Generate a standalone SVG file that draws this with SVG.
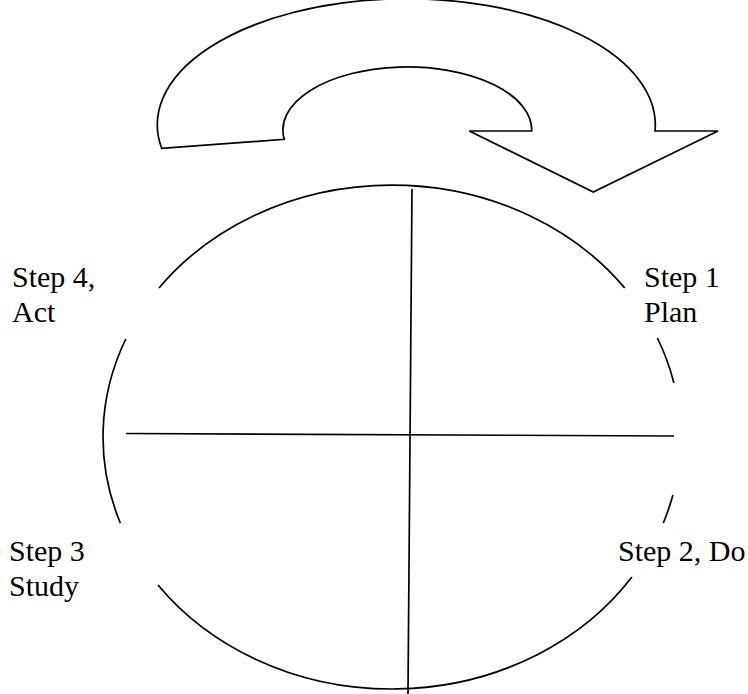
<svg xmlns="http://www.w3.org/2000/svg" width="748" height="694" viewBox="0 0 748 694">
<style>
.ln{fill:none;stroke:#000;stroke-width:1.7}
.lbl{font-family:"Liberation Serif","Times New Roman",serif;font-size:30px;fill:#000}
</style>
<rect width="748" height="694" fill="#fff"/>
<g id="cycle-arrow">
<path class="ln" fill="#fff" d="M161.7 148.3 A249 126 0 1 1 655 131 L718 131 L593.3 192 L469.3 131 L531.7 131 A124.4 63 0 1 0 284.3 139.3 Z"/>
</g>
<g id="circle">
<path class="ln" d="M159 288 A288.8 252 0 0 1 624.7 288"/>
<path class="ln" d="M657.4 338 A288.8 252 0 0 1 673.9 383"/>
<path class="ln" d="M672.9 495 A288.8 252 0 0 1 663.3 523"/>
<path class="ln" d="M631.9 577 A288.8 252 0 0 1 158 585"/>
<path class="ln" d="M120.3 523 A288.8 252 0 0 1 125.8 339"/>
</g>
<g id="connectors">
<line class="ln" x1="412" y1="189" x2="408" y2="694"/>
<line class="ln" x1="126" y1="433.5" x2="674" y2="436"/>
</g>
<g id="step1"><text class="lbl" x="644" y="287">Step 1</text><text class="lbl" x="644" y="321.5">Plan</text></g>
<g id="step2"><text class="lbl" x="618" y="560.5">Step 2, Do</text></g>
<g id="step3"><text class="lbl" x="9" y="560.5">Step 3</text><text class="lbl" x="9" y="595.5">Study</text></g>
<g id="step4"><text class="lbl" x="12" y="287">Step 4,</text><text class="lbl" x="12" y="321.5">Act</text></g>
</svg>
